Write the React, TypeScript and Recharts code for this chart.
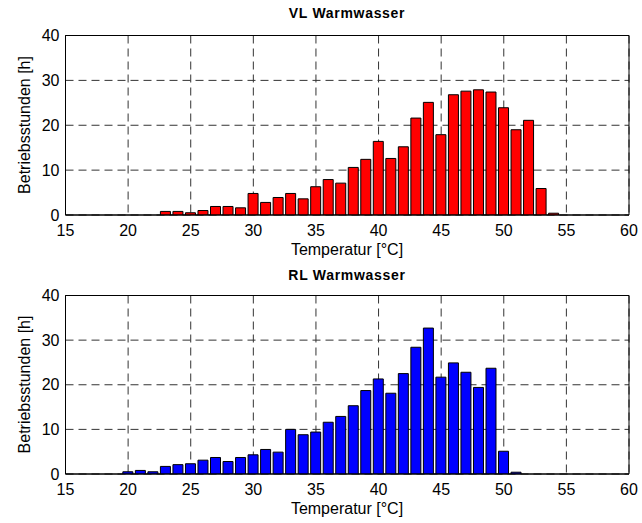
import React from 'react';
import { BarChart, Bar, XAxis, YAxis, CartesianGrid, ReferenceArea } from 'recharts';

const xTicks = [15, 20, 25, 30, 35, 40, 45, 50, 55, 60];
const yTicks = [0, 10, 20, 30, 40];

const vlTemps = [23, 24, 25, 26, 27, 28, 29, 30, 31, 32, 33, 34, 35, 36, 37, 38, 39, 40, 41, 42, 43, 44, 45, 46, 47, 48, 49, 50, 51, 52, 53, 54];
const vlHours = [0.8, 0.8, 0.5, 1.0, 1.9, 1.9, 1.6, 4.8, 2.8, 3.9, 4.8, 3.6, 6.3, 7.9, 7.1, 10.6, 12.4, 16.4, 12.6, 15.2, 21.6, 25.1, 17.9, 26.8, 27.6, 27.9, 27.4, 23.9, 19.0, 21.1, 5.9, 0.4];

const rlTemps = [20, 21, 22, 23, 24, 25, 26, 27, 28, 29, 30, 31, 32, 33, 34, 35, 36, 37, 38, 39, 40, 41, 42, 43, 44, 45, 46, 47, 48, 49, 50, 51];
const rlHours = [0.5, 0.8, 0.5, 1.7, 2.1, 2.3, 3.1, 3.7, 2.8, 3.7, 4.3, 5.5, 4.9, 10.0, 8.8, 9.4, 11.6, 12.9, 15.3, 18.7, 21.3, 18.1, 22.5, 28.4, 32.7, 21.7, 24.9, 22.8, 19.4, 23.7, 5.1, 0.4];

const vlData = vlTemps.map((t, i) => ({ t, h: vlHours[i] }));
const rlData = rlTemps.map((t, i) => ({ t, h: rlHours[i] }));

const FONT = '"Liberation Sans", Arial, sans-serif';

function Panel({ data, color, height, marginBottom }: { data: { t: number; h: number }[]; color: string; height: number; marginBottom: number }) {
  return (
    <BarChart
      width={642}
      height={height}
      data={data}
      margin={{ top: 35.5, right: 13, left: 0, bottom: marginBottom }}
      barSize={10}
      style={{ fontFamily: FONT }}
    >
      <CartesianGrid stroke="#333" strokeDasharray="8 5" />
      <XAxis
        dataKey="t"
        type="number"
        domain={[15, 60]}
        ticks={xTicks}
        interval={0}
        allowDataOverflow
        height={44}
        tickLine={false}
        tickSize={8}
        tickMargin={2}
        axisLine={{ stroke: '#000' }}
        tick={{ fill: '#000', fontSize: 16, fontFamily: FONT }}
      />
      <YAxis
        type="number"
        domain={[0, 40]}
        ticks={yTicks}
        interval={0}
        allowDataOverflow
        width={65.5}
        tickLine={false}
        tickSize={4}
        tickMargin={2}
        axisLine={{ stroke: '#000' }}
        tick={{ fill: '#000', fontSize: 16, fontFamily: FONT }}
      />
      <Bar dataKey="h" fill={color} stroke="#000" strokeWidth={1} isAnimationActive={false} />
      <ReferenceArea x1={15} x2={60} y1={0} y2={40} fill="none" stroke="#000" strokeWidth={1} ifOverflow="visible" />
    </BarChart>
  );
}

export default function App() {
  return (
    <div style={{ position: 'absolute', left: 0, top: 0, width: 642, height: 523, background: '#fff', fontFamily: FONT }}>
      <div style={{ position: 'absolute', left: 0, top: 0 }}>
        <Panel data={vlData} color="#ff0000" height={262} marginBottom={3} />
      </div>
      <div style={{ position: 'absolute', left: 0, top: 259.5 }}>
        <Panel data={rlData} color="#0000ff" height={263} marginBottom={5} />
      </div>
      <svg width={642} height={523} style={{ position: 'absolute', left: 0, top: 0, pointerEvents: 'none' }}>
        <g fontFamily={FONT} fill="#000">
          <text x={347} y={18} textAnchor="middle" fontSize={14} fontWeight="bold" letterSpacing={0.7}>VL Warmwasser</text>
          <text x={347} y={280} textAnchor="middle" fontSize={14} fontWeight="bold" letterSpacing={0.7}>RL Warmwasser</text>
          <text x={347} y={255} textAnchor="middle" fontSize={16}>Temperatur [°C]</text>
          <text x={347} y={514} textAnchor="middle" fontSize={16}>Temperatur [°C]</text>
          <text x={30} y={125} textAnchor="middle" fontSize={16} transform="rotate(-90 30 125)">Betriebsstunden [h]</text>
          <text x={30} y={384.5} textAnchor="middle" fontSize={16} transform="rotate(-90 30 384.5)">Betriebsstunden [h]</text>
        </g>
      </svg>
    </div>
  );
}
